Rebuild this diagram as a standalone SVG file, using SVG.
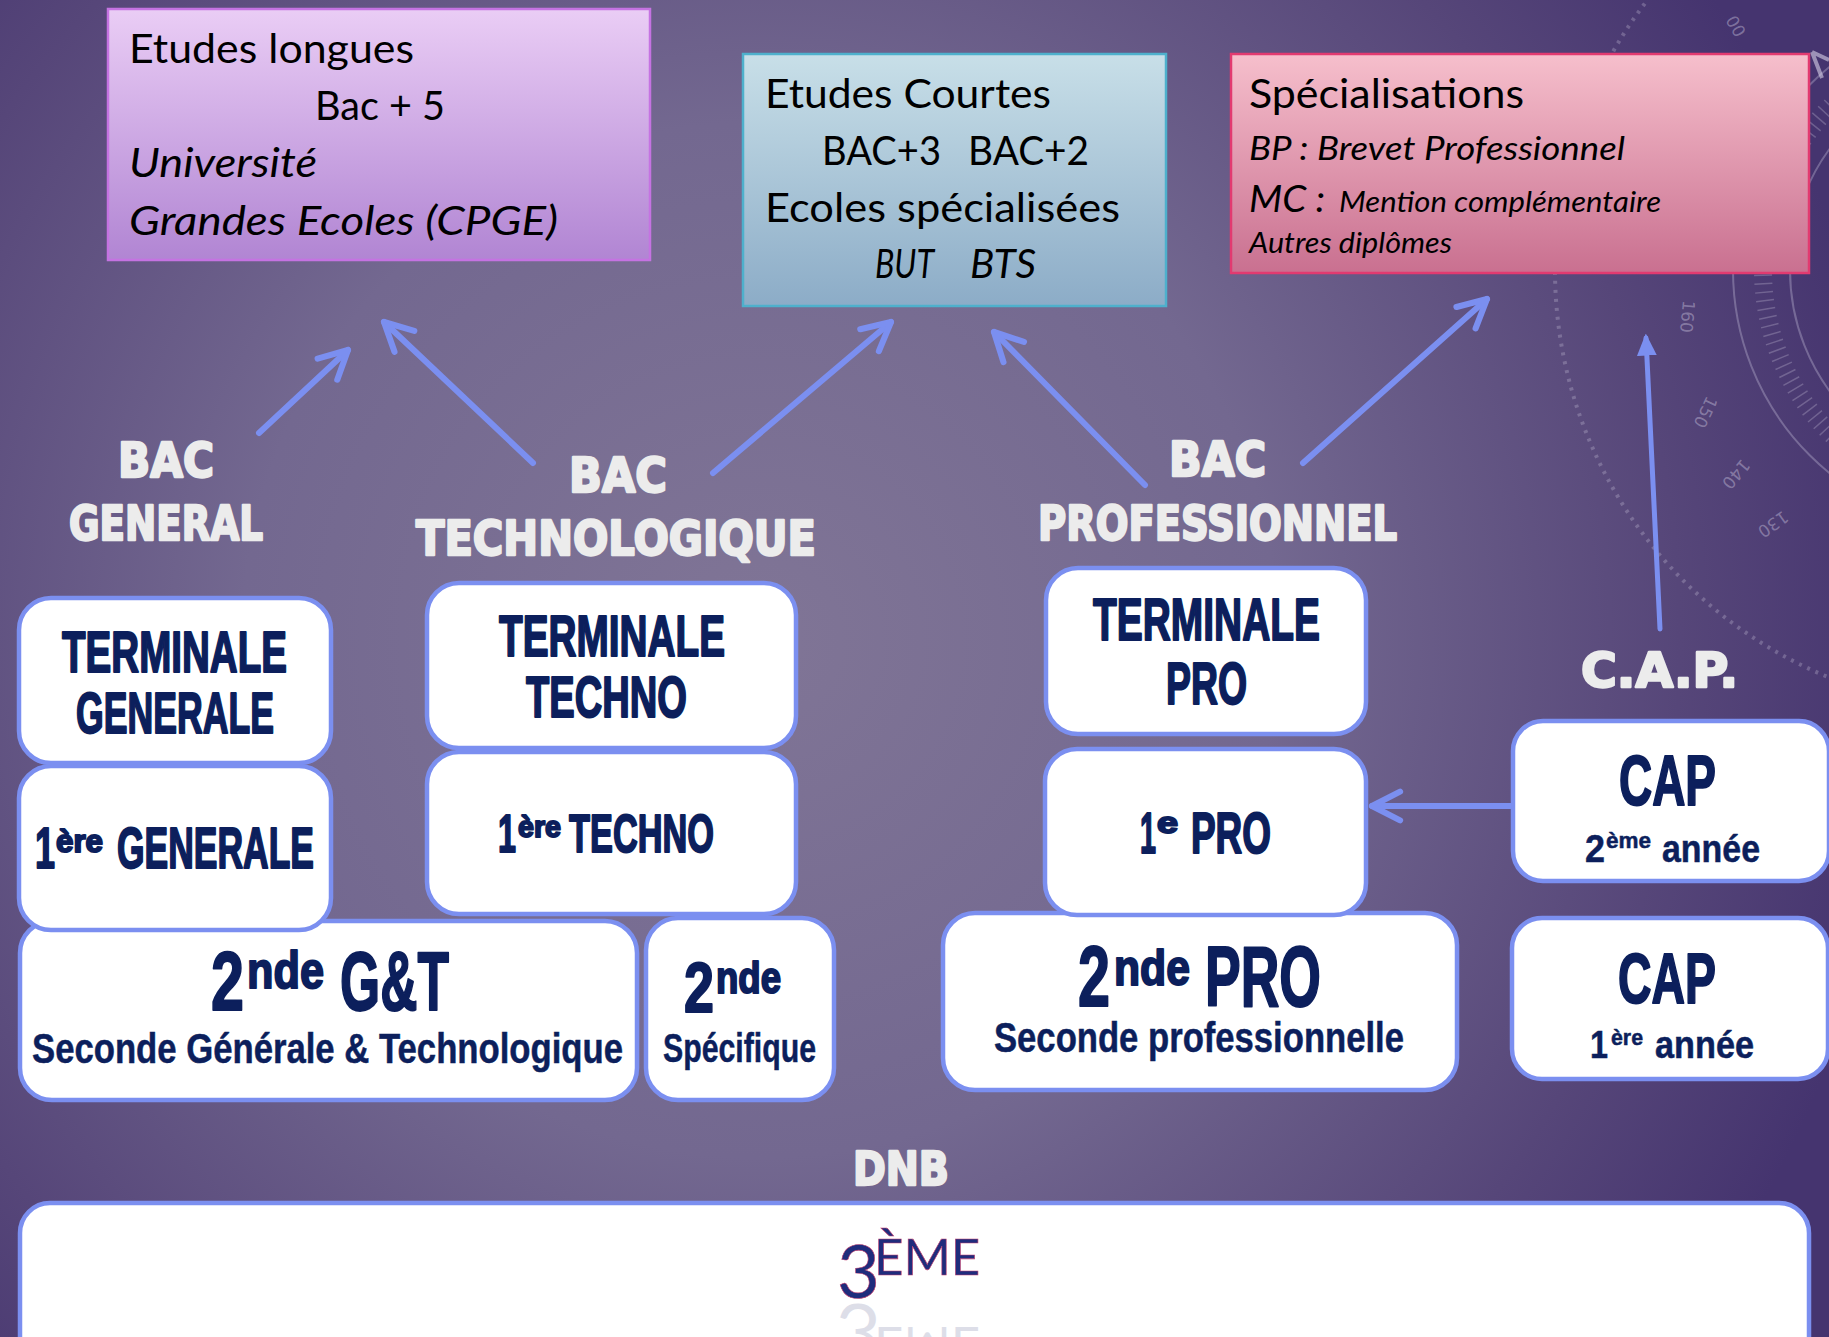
<svg xmlns="http://www.w3.org/2000/svg" width="1829" height="1337" viewBox="0 0 1829 1337">
<defs>
<radialGradient id="bg" cx="760" cy="640" r="1150" gradientUnits="userSpaceOnUse">
<stop offset="0" stop-color="#807596"/>
<stop offset="0.45" stop-color="#736890"/>
<stop offset="0.8" stop-color="#564679"/>
<stop offset="1" stop-color="#45346f"/>
</radialGradient>
<linearGradient id="gLong" x1="0" y1="0" x2="0" y2="1">
<stop offset="0" stop-color="#eacdf5"/>
<stop offset="1" stop-color="#b185d3"/>
</linearGradient>
<linearGradient id="gCourt" x1="0" y1="0" x2="0" y2="1">
<stop offset="0" stop-color="#c8dfe8"/>
<stop offset="1" stop-color="#8cacc7"/>
</linearGradient>
<linearGradient id="gSpec" x1="0" y1="0" x2="0" y2="1">
<stop offset="0" stop-color="#f6bfcc"/>
<stop offset="1" stop-color="#c97090"/>
</linearGradient>
<marker id="chev" viewBox="0 0 10 10" refX="9" refY="5" markerWidth="6" markerHeight="6" orient="auto" markerUnits="strokeWidth">
<path d="M1.2,1 L9,5 L1.2,9" fill="none" stroke="#7b8ff0" stroke-width="1.7" stroke-linecap="round" stroke-linejoin="round"/>
</marker>
<marker id="tri" viewBox="0 0 10 10" refX="8" refY="5" markerWidth="22" markerHeight="22" orient="auto" markerUnits="userSpaceOnUse">
<path d="M0,0.5 L10,5 L0,9.5 z" fill="#7b8ff0"/>
</marker>
<style>
.box{stroke-width:2.5}
.serif{font-family:Lato,"Open Sans","Liberation Sans",sans-serif;fill:#000}
.it{font-style:italic}
.node rect{fill:#fff;stroke:#7b8ff0;stroke-width:4.5}
.t{font-family:"Liberation Sans",Arial,sans-serif;font-weight:bold;fill:#0c1f5c;stroke:#0c1f5c;stroke-width:2;stroke-linejoin:round}
.s{font-family:"Liberation Sans",Arial,sans-serif;font-weight:bold;fill:#0c1f5c;stroke:#0c1f5c;stroke-width:0.5}
.h{font-family:"DejaVu Sans","Liberation Sans",sans-serif;font-weight:bold;fill:#ececec;stroke:#ececec;stroke-width:2.4;stroke-linejoin:round}
.conn{fill:none;stroke:#7b8ff0;stroke-width:6;stroke-linecap:round}
.deco{fill:none;stroke:#c9c2dc;stroke-opacity:0.35;stroke-width:2}
.num{font-family:"DejaVu Sans",sans-serif;font-size:17px;fill:#d8d2e8;fill-opacity:0.4}
.e3{font-family:Lato,"Open Sans",sans-serif;fill:#1f2c7c;stroke:#c04070;stroke-width:0.6}
</style>
</defs>

<rect x="0" y="0" width="1829" height="1337" fill="url(#bg)"/>

<g id="decoration">
<circle class="deco" cx="1995" cy="270" r="262"/>
<circle class="deco" cx="1995" cy="270" r="205"/>
<circle cx="1995" cy="270" r="440" fill="none" stroke="#c9c2dc" stroke-opacity="0.3" stroke-width="4" stroke-dasharray="3 6"/>
<circle cx="1995" cy="270" r="232" fill="none" stroke="#c9c2dc" stroke-opacity="0.3" stroke-width="18" stroke-dasharray="1.5 7"/>
<text class="num" transform="translate(1683,300) rotate(95)">160</text>
<text class="num" transform="translate(1707,395) rotate(115)">150</text>
<text class="num" transform="translate(1742,458) rotate(130)">140</text>
<text class="num" transform="translate(1783,510) rotate(145)">130</text>
<text class="num" transform="translate(1725,20) rotate(60)">00</text>
<path d="M1812,52 L1822,78 M1812,52 L1829,60" stroke="#d8d2e8" stroke-opacity="0.6" stroke-width="4" fill="none"/>
</g>

<g id="connectors">
<line class="conn" x1="259" y1="433" x2="348" y2="350" marker-end="url(#chev)"/>
<line class="conn" x1="533" y1="463" x2="384" y2="322" marker-end="url(#chev)"/>
<line class="conn" x1="713" y1="473" x2="891" y2="322" marker-end="url(#chev)"/>
<line class="conn" x1="1145" y1="485" x2="994" y2="332" marker-end="url(#chev)"/>
<line class="conn" x1="1303" y1="463" x2="1487" y2="299" marker-end="url(#chev)"/>
<line class="conn" x1="1512" y1="806" x2="1372" y2="806" marker-end="url(#chev)"/>
<line class="conn" style="stroke-width:5" x1="1660" y1="629" x2="1646" y2="338" marker-end="url(#tri)"/>
</g>

<g id="etudes-longues">
<rect class="box" x="108" y="9" width="542" height="251" fill="url(#gLong)" stroke="#c573e2"/>
<text class="serif" x="129" y="63" font-size="40" textLength="285" lengthAdjust="spacingAndGlyphs">Etudes longues</text>
<text class="serif" x="315" y="120" font-size="40" textLength="130" lengthAdjust="spacingAndGlyphs">Bac + 5</text>
<text class="serif it" x="129" y="177" font-size="40" textLength="188" lengthAdjust="spacingAndGlyphs">Université</text>
<text class="serif it" x="129" y="235" font-size="40" textLength="429" lengthAdjust="spacingAndGlyphs">Grandes Ecoles (CPGE)</text>
</g>

<g id="etudes-courtes">
<rect class="box" x="743" y="54" width="423" height="252" fill="url(#gCourt)" stroke="#4eb0cc"/>
<text class="serif" x="765" y="108" font-size="40" textLength="286" lengthAdjust="spacingAndGlyphs">Etudes Courtes</text>
<text class="serif" x="822" y="165" font-size="40" textLength="119" lengthAdjust="spacingAndGlyphs">BAC+3</text>
<text class="serif" x="968" y="165" font-size="40" textLength="121" lengthAdjust="spacingAndGlyphs">BAC+2</text>
<text class="serif" x="765" y="222" font-size="40" textLength="355" lengthAdjust="spacingAndGlyphs">Ecoles spécialisées</text>
<text class="serif it" x="875" y="278" font-size="40" textLength="59" lengthAdjust="spacingAndGlyphs">BUT</text>
<text class="serif it" x="970" y="278" font-size="40" textLength="66" lengthAdjust="spacingAndGlyphs">BTS</text>
</g>

<g id="specialisations">
<rect class="box" x="1231" y="54" width="578" height="219" fill="url(#gSpec)" stroke="#e23a70"/>
<text class="serif" x="1249" y="108" font-size="40" textLength="275" lengthAdjust="spacingAndGlyphs">Spécialisations</text>
<text class="serif it" x="1249" y="160" font-size="32" textLength="376" lengthAdjust="spacingAndGlyphs">BP : Brevet Professionnel</text>
<text class="serif it" x="1249" y="212" font-size="37" textLength="76" lengthAdjust="spacingAndGlyphs">MC :</text>
<text class="serif it" x="1339" y="212" font-size="28" textLength="322" lengthAdjust="spacingAndGlyphs">Mention complémentaire</text>
<text class="serif it" x="1249" y="253" font-size="28" textLength="203" lengthAdjust="spacingAndGlyphs">Autres diplômes</text>
</g>

<g id="label-bac-general">
<text class="h" x="118" y="477" font-size="48" textLength="96" lengthAdjust="spacingAndGlyphs">BAC</text>
<text class="h" x="69" y="540" font-size="48" textLength="194" lengthAdjust="spacingAndGlyphs">GENERAL</text>
</g>
<g id="label-bac-techno">
<text class="h" x="569" y="492" font-size="48" textLength="98" lengthAdjust="spacingAndGlyphs">BAC</text>
<text class="h" x="416" y="555" font-size="48" textLength="400" lengthAdjust="spacingAndGlyphs">TECHNOLOGIQUE</text>
</g>
<g id="label-bac-pro">
<text class="h" x="1169" y="476" font-size="48" textLength="97" lengthAdjust="spacingAndGlyphs">BAC</text>
<text class="h" x="1038" y="540" font-size="48" textLength="359" lengthAdjust="spacingAndGlyphs">PROFESSIONNEL</text>
</g>
<g id="label-cap">
<text class="h" x="1581" y="687" font-size="48" textLength="157" lengthAdjust="spacingAndGlyphs">C.A.P.</text>
</g>
<g id="label-dnb">
<text class="h" x="853" y="1185" font-size="46" textLength="96" lengthAdjust="spacingAndGlyphs">DNB</text>
</g>

<g id="troisieme" class="node">
<rect x="20" y="1203" width="1789" height="175" rx="30"/>
<text class="e3" y="1298"><tspan x="837" font-size="74">3</tspan><tspan x="874" dy="-23" font-size="51">ÈME</tspan></text>
<g transform="translate(0,2602) scale(1,-1)" opacity="0.2">
<text y="1298" font-family="Lato,'Open Sans',sans-serif" fill="#5a6090"><tspan x="837" font-size="74">3</tspan><tspan x="874" dy="-23" font-size="51">ÈME</tspan></text>
</g>
</g>

<g id="seconde-gt" class="node">
<rect x="20" y="921" width="617" height="179" rx="32"/>
<text class="t" y="1010"><tspan x="211" font-size="84" textLength="33" lengthAdjust="spacingAndGlyphs">2</tspan><tspan x="247" dy="-22" font-size="52" textLength="77" lengthAdjust="spacingAndGlyphs">nde</tspan><tspan x="340" dy="22" font-size="84" textLength="109" lengthAdjust="spacingAndGlyphs">G&amp;T</tspan></text>
<text class="s" x="32" y="1063" font-size="42" textLength="591" lengthAdjust="spacingAndGlyphs">Seconde Générale &amp; Technologique</text>
</g>

<g id="seconde-specifique" class="node">
<rect x="646" y="918" width="188" height="182" rx="32"/>
<text class="t" y="1012"><tspan x="684" font-size="70" textLength="30" lengthAdjust="spacingAndGlyphs">2</tspan><tspan x="716" dy="-19" font-size="44" textLength="65" lengthAdjust="spacingAndGlyphs">nde</tspan></text>
<text class="s" x="663" y="1062" font-size="40" textLength="153" lengthAdjust="spacingAndGlyphs">Spécifique</text>
</g>

<g id="premiere-generale" class="node">
<rect x="19" y="766" width="312" height="164" rx="32"/>
<text class="t" y="868"><tspan x="35" font-size="57" textLength="20" lengthAdjust="spacingAndGlyphs">1</tspan><tspan x="56" dy="-16" font-size="32" textLength="47" lengthAdjust="spacingAndGlyphs">ère</tspan><tspan x="117" dy="16" font-size="57" textLength="197" lengthAdjust="spacingAndGlyphs">GENERALE</tspan></text>
</g>

<g id="terminale-generale" class="node">
<rect x="19" y="598" width="312" height="165" rx="32"/>
<text class="t" x="62" y="672" font-size="58" textLength="225" lengthAdjust="spacingAndGlyphs">TERMINALE</text>
<text class="t" x="76" y="733" font-size="58" textLength="198" lengthAdjust="spacingAndGlyphs">GENERALE</text>
</g>

<g id="premiere-techno" class="node">
<rect x="427" y="752" width="369" height="162" rx="32"/>
<text class="t" y="852"><tspan x="498" font-size="54" textLength="18" lengthAdjust="spacingAndGlyphs">1</tspan><tspan x="518" dy="-15" font-size="30" textLength="43" lengthAdjust="spacingAndGlyphs">ère</tspan><tspan x="569" dy="15" font-size="54" textLength="145" lengthAdjust="spacingAndGlyphs">TECHNO</tspan></text>
</g>

<g id="terminale-techno" class="node">
<rect x="427" y="583" width="369" height="165" rx="32"/>
<text class="t" x="499" y="656" font-size="58" textLength="226" lengthAdjust="spacingAndGlyphs">TERMINALE</text>
<text class="t" x="526" y="717" font-size="58" textLength="161" lengthAdjust="spacingAndGlyphs">TECHNO</text>
</g>

<g id="seconde-pro" class="node">
<rect x="943" y="913" width="514" height="177" rx="32"/>
<text class="t" y="1006"><tspan x="1078" font-size="85" textLength="32" lengthAdjust="spacingAndGlyphs">2</tspan><tspan x="1114" dy="-21" font-size="50" textLength="76" lengthAdjust="spacingAndGlyphs">nde</tspan><tspan x="1205" dy="21" font-size="85" textLength="116" lengthAdjust="spacingAndGlyphs">PRO</tspan></text>
<text class="s" x="994" y="1052" font-size="42" textLength="410" lengthAdjust="spacingAndGlyphs">Seconde professionnelle</text>
</g>

<g id="premiere-pro" class="node">
<rect x="1045" y="749" width="321" height="166" rx="32"/>
<text class="t" y="853"><tspan x="1140" font-size="57" textLength="16" lengthAdjust="spacingAndGlyphs">1</tspan><tspan x="1157" dy="-20" font-size="30" textLength="21" lengthAdjust="spacingAndGlyphs">e</tspan><tspan x="1191" dy="20" font-size="57" textLength="80" lengthAdjust="spacingAndGlyphs">PRO</tspan></text>
</g>

<g id="terminale-pro" class="node">
<rect x="1046" y="568" width="320" height="166" rx="32"/>
<text class="t" x="1093" y="640" font-size="59" textLength="227" lengthAdjust="spacingAndGlyphs">TERMINALE</text>
<text class="t" x="1166" y="704" font-size="59" textLength="81" lengthAdjust="spacingAndGlyphs">PRO</text>
</g>

<g id="cap-2" class="node">
<rect x="1513" y="721" width="316" height="160" rx="30"/>
<text class="t" x="1619" y="805" font-size="70" textLength="97" lengthAdjust="spacingAndGlyphs">CAP</text>
<text class="s" y="862"><tspan x="1585" font-size="38" textLength="20" lengthAdjust="spacingAndGlyphs">2</tspan><tspan x="1606" dy="-14" font-size="22" textLength="45" lengthAdjust="spacingAndGlyphs">ème</tspan><tspan x="1662" dy="14" font-size="38" textLength="98" lengthAdjust="spacingAndGlyphs">année</tspan></text>
</g>

<g id="cap-1" class="node">
<rect x="1512" y="918" width="316" height="161" rx="30"/>
<text class="t" x="1618" y="1003" font-size="71" textLength="98" lengthAdjust="spacingAndGlyphs">CAP</text>
<text class="s" y="1058"><tspan x="1590" font-size="38" textLength="18" lengthAdjust="spacingAndGlyphs">1</tspan><tspan x="1611" dy="-13" font-size="22" textLength="32" lengthAdjust="spacingAndGlyphs">ère</tspan><tspan x="1655" dy="13" font-size="38" textLength="99" lengthAdjust="spacingAndGlyphs">année</tspan></text>
</g>
</svg>
